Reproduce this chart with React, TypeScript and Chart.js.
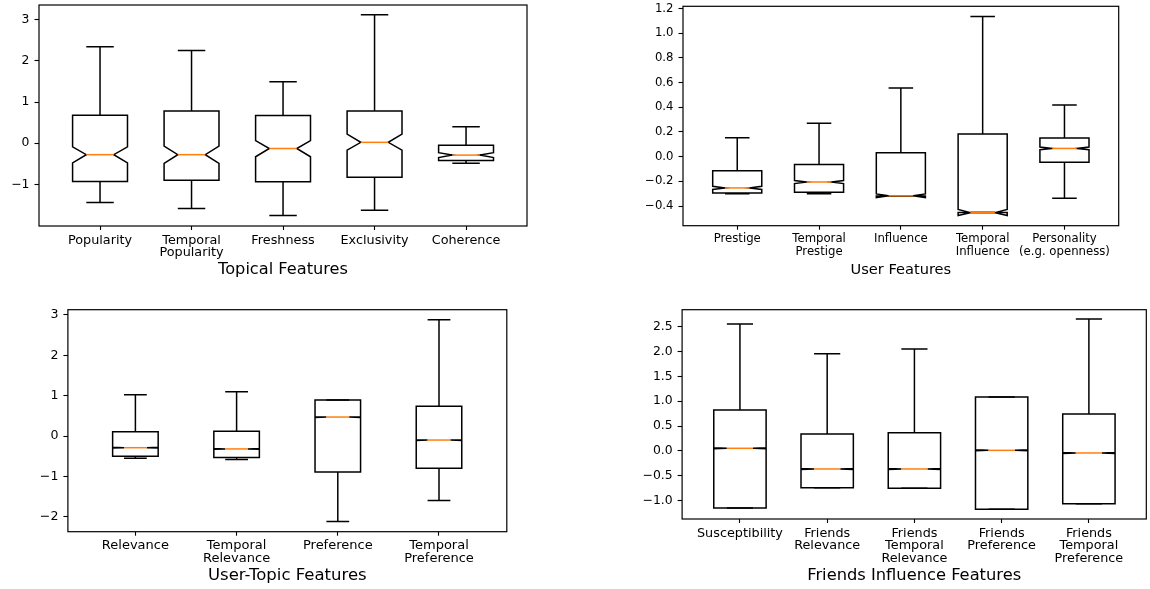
import React, { useEffect, useRef } from 'react';
import { Chart, registerables } from 'chart.js';

Chart.register(...registerables);

const FONT = "'DejaVu Sans', 'Liberation Sans', sans-serif";

// ---------- Topical Features ----------
const topicalLabels = [['Popularity'], ['Temporal', 'Popularity'], ['Freshness'], ['Exclusivity'], ['Coherence']];
const topicalWhiskerLow = [-1.44, -1.59, -1.76, -1.63, -0.49];
const topicalQ1 = [-0.93, -0.9, -0.94, -0.83, -0.42];
const topicalNotchLow = [-0.48, -0.49, -0.33, -0.17, -0.35];
const topicalMedian = [-0.28, -0.28, -0.13, 0.02, -0.29];
const topicalNotchHigh = [-0.09, -0.07, 0.06, 0.22, -0.23];
const topicalQ3 = [0.68, 0.78, 0.67, 0.78, -0.05];
const topicalWhiskerHigh = [2.34, 2.25, 1.49, 3.12, 0.4];
const topicalYTicks = [-1, 0, 1, 2, 3];

// ---------- User Features ----------
const userLabels = [['Prestige'], ['Temporal', 'Prestige'], ['Influence'], ['Temporal', 'Influence'], ['Personality', '(e.g. openness)']];
const userWhiskerLow = [-0.3, -0.3, -0.318, -0.453, -0.337];
const userQ1 = [-0.294, -0.289, -0.318, -0.453, -0.046];
const userNotchLow = [-0.265, -0.218, -0.332, -0.477, 0.056];
const userMedian = [-0.253, -0.205, -0.317, -0.453, 0.067];
const userNotchHigh = [-0.24, -0.193, -0.302, -0.427, 0.078];
const userQ3 = [-0.113, -0.064, 0.032, 0.183, 0.151];
const userWhiskerHigh = [0.154, 0.27, 0.556, 1.135, 0.418];
const userYTicks = [-0.4, -0.2, 0, 0.2, 0.4, 0.6, 0.8, 1.0, 1.2];

// ---------- User-Topic Features ----------
const utLabels = [['Relevance'], ['Temporal', 'Relevance'], ['Preference'], ['Temporal', 'Preference']];
const utWhiskerLow = [-0.55, -0.58, -2.12, -1.6];
const utQ1 = [-0.5, -0.53, -0.89, -0.8];
const utNotchLow = [-0.3, -0.33, 0.46, -0.11];
const utMedian = [-0.29, -0.32, 0.47, -0.1];
const utNotchHigh = [-0.28, -0.31, 0.48, -0.09];
const utQ3 = [0.107, 0.116, 0.89, 0.74];
const utWhiskerHigh = [1.02, 1.1, 0.89, 2.88];
const utYTicks = [-2, -1, 0, 1, 2, 3];

// ---------- Friends Influence Features ----------
const fiLabels = [['Susceptibility'], ['Friends', 'Relevance'], ['Friends', 'Temporal', 'Relevance'], ['Friends', 'Preference'], ['Friends', 'Temporal', 'Preference']];
const fiWhiskerLow = [-1.147, -0.738, -0.75, -1.174, -1.06];
const fiQ1 = [-1.147, -0.738, -0.75, -1.174, -1.06];
const fiNotchLow = [0.044, -0.372, -0.372, 0.003, -0.05];
const fiMedian = [0.054, -0.362, -0.362, 0.013, -0.04];
const fiNotchHigh = [0.064, -0.352, -0.352, 0.023, -0.03];
const fiQ3 = [0.825, 0.342, 0.369, 1.087, 0.744];
const fiWhiskerHigh = [2.555, 1.958, 2.05, 1.087, 2.656];
const fiYTicks = [-1.0, -0.5, 0, 0.5, 1.0, 1.5, 2.0, 2.5];

type Spec = {
  title: string;
  labels: string[][];
  lo: number[]; q1: number[]; nlo: number[]; med: number[]; nhi: number[]; q3: number[]; hi: number[];
  yTicks: number[]; decimals: number;
  yMin: number; yMax: number; xMin: number; xMax: number;
  boxWidth: number;
  canvas: { left: number; top: number; width: number; height: number };
  plot: { left: number; top: number; right: number; bottom: number };
  tickSize: number; yTickSize: number; titleSize: number; tickPad: number; titlePad: number; lineH: number;
};

const specs: Spec[] = [
  {
    title: 'Topical Features', labels: topicalLabels,
    lo: topicalWhiskerLow, q1: topicalQ1, nlo: topicalNotchLow, med: topicalMedian, nhi: topicalNotchHigh, q3: topicalQ3, hi: topicalWhiskerHigh,
    yTicks: topicalYTicks, decimals: 0, yMin: -2.013, yMax: 3.357, xMin: 0.333, xMax: 5.666, boxWidth: 0.6,
    canvas: { left: 0, top: 0, width: 580, height: 295 },
    plot: { left: 39, top: 5, right: 527, bottom: 226 },
    tickSize: 12.8, yTickSize: 12.4, titleSize: 16.2, tickPad: 3.8, titlePad: 15.5, lineH: 12.8,
  },
  {
    title: 'User Features', labels: userLabels,
    lo: userWhiskerLow, q1: userQ1, nlo: userNotchLow, med: userMedian, nhi: userNotchHigh, q3: userQ3, hi: userWhiskerHigh,
    yTicks: userYTicks, decimals: 1, yMin: -0.559, yMax: 1.218, xMin: 0.337, xMax: 5.663, boxWidth: 0.6,
    canvas: { left: 580, top: 0, width: 570, height: 295 },
    plot: { left: 103, top: 6.3, right: 538.7, bottom: 225.7 },
    tickSize: 11.7, yTickSize: 11.7, titleSize: 14.6, tickPad: 3.4, titlePad: 16, lineH: 12.7,
  },
  {
    title: 'User-Topic Features', labels: utLabels,
    lo: utWhiskerLow, q1: utQ1, nlo: utNotchLow, med: utMedian, nhi: utNotchHigh, q3: utQ3, hi: utWhiskerHigh,
    yTicks: utYTicks, decimals: 0, yMin: -2.372, yMax: 3.131, xMin: 0.333, xMax: 4.67, boxWidth: 0.45,
    canvas: { left: 0, top: 295, width: 580, height: 294 },
    plot: { left: 67.9, top: 14.7, right: 506.8, bottom: 236.7 },
    tickSize: 13, yTickSize: 12.6, titleSize: 16.5, tickPad: 4, titlePad: 3.5, lineH: 12.8,
  },
  {
    title: 'Friends Influence Features', labels: fiLabels,
    lo: fiWhiskerLow, q1: fiQ1, nlo: fiNotchLow, med: fiMedian, nhi: fiNotchHigh, q3: fiQ3, hi: fiWhiskerHigh,
    yTicks: fiYTicks, decimals: 1, yMin: -1.368, yMax: 2.842, xMin: 0.337, xMax: 5.658, boxWidth: 0.6,
    canvas: { left: 580, top: 295, width: 570, height: 294 },
    plot: { left: 102.1, top: 14.7, right: 566.3, bottom: 224 },
    tickSize: 12.8, yTickSize: 12.4, titleSize: 16.3, tickPad: 4.2, titlePad: 3.5, lineH: 12.6,
  },
];

function fmt(v: number, d: number) {
  const s = v.toFixed(d);
  return s.startsWith('-') ? '\u2212' + s.slice(1) : s;
}

function Panel({ spec }: { spec: Spec }) {
  const ref = useRef<HTMLCanvasElement>(null);
  useEffect(() => {
    const { canvas, plot } = spec;
    const boxPlugin = {
      id: 'boxes',
      afterDatasetsDraw(chart: any) {
        const ctx = chart.ctx as CanvasRenderingContext2D;
        const xs = chart.scales.x;
        const ys = chart.scales.y;
        const w = spec.boxWidth;
        ctx.save();
        ctx.lineWidth = 1.5;
        ctx.strokeStyle = '#000';
        ctx.lineJoin = 'miter';
        spec.med.forEach((m, i) => {
          const pos = i + 1;
          const xc = xs.getPixelForValue(pos);
          const xl = xs.getPixelForValue(pos - w / 2);
          const xr = xs.getPixelForValue(pos + w / 2);
          const cl = xs.getPixelForValue(pos - w / 4);
          const cr = xs.getPixelForValue(pos + w / 4);
          const yLo = ys.getPixelForValue(spec.lo[i]);
          const yQ1 = ys.getPixelForValue(spec.q1[i]);
          const yNlo = ys.getPixelForValue(spec.nlo[i]);
          const yMed = ys.getPixelForValue(m);
          const yNhi = ys.getPixelForValue(spec.nhi[i]);
          const yQ3 = ys.getPixelForValue(spec.q3[i]);
          const yHi = ys.getPixelForValue(spec.hi[i]);
          ctx.lineCap = 'butt';
          // whiskers
          ctx.beginPath();
          ctx.moveTo(xc, yQ1); ctx.lineTo(xc, yLo);
          ctx.moveTo(xc, yQ3); ctx.lineTo(xc, yHi);
          ctx.stroke();
          // caps
          ctx.beginPath();
          ctx.moveTo(cl, yLo); ctx.lineTo(cr, yLo);
          ctx.moveTo(cl, yHi); ctx.lineTo(cr, yHi);
          ctx.stroke();
          // notched box
          ctx.beginPath();
          ctx.moveTo(xl, yQ1);
          ctx.lineTo(xl, yNlo);
          ctx.lineTo(cl, yMed);
          ctx.lineTo(xl, yNhi);
          ctx.lineTo(xl, yQ3);
          ctx.lineTo(xr, yQ3);
          ctx.lineTo(xr, yNhi);
          ctx.lineTo(cr, yMed);
          ctx.lineTo(xr, yNlo);
          ctx.lineTo(xr, yQ1);
          ctx.closePath();
          ctx.stroke();
          // median
          ctx.strokeStyle = '#ff7f0e';
          ctx.beginPath();
          ctx.moveTo(cl, yMed); ctx.lineTo(cr, yMed);
          ctx.stroke();
          ctx.strokeStyle = '#000';
        });
        ctx.restore();
      },
      afterDraw(chart: any) {
        const { left, top, width, height } = chart.chartArea;
        const ctx = chart.ctx as CanvasRenderingContext2D;
        ctx.save();
        ctx.strokeStyle = '#000';
        ctx.lineWidth = 1.2;
        ctx.strokeRect(left, top, width, height);
        ctx.restore();
      },
    };

    const tickFont = { family: FONT, size: spec.tickSize, lineHeight: spec.lineH + 'px' };
    const positions = spec.labels.map((_, i) => i + 1);

    const chart = new Chart(ref.current!, {
      type: 'scatter',
      data: { datasets: [{ data: [], pointRadius: 0 }] },
      options: {
        animation: false,
        responsive: false,
        maintainAspectRatio: false,
        events: [],
        layout: {
          padding: { left: 0, top: plot.top, right: canvas.width - plot.right, bottom: 0 },
        },
        plugins: { legend: { display: false }, tooltip: { enabled: false }, title: { display: false } },
        scales: {
          x: {
            type: 'linear',
            min: spec.xMin,
            max: spec.xMax,
            bounds: 'data',
            border: { display: false },
            grid: { display: true, drawOnChartArea: false, drawTicks: true, tickLength: 4, tickColor: '#000', tickWidth: 1.1 },
            ticks: {
              autoSkip: false,
              maxRotation: 0,
              minRotation: 0,
              color: '#000',
              padding: spec.tickPad,
              font: tickFont,
              callback: (_v: any, idx: number) => spec.labels[idx],
            },
            afterBuildTicks: (scale: any) => {
              scale.ticks = positions.map((v) => ({ value: v }));
            },
            afterFit: (scale: any) => {
              scale.height = canvas.height - plot.bottom;
              scale.paddingLeft = 0; scale.paddingRight = 0;
            },
            title: {
              display: true,
              text: spec.title,
              color: '#000',
              font: { family: FONT, size: spec.titleSize, lineHeight: 1.2 },
              padding: { top: 0, bottom: spec.titlePad },
            },
          },
          y: {
            type: 'linear',
            min: spec.yMin,
            max: spec.yMax,
            bounds: 'data',
            border: { display: false },
            grid: { display: true, drawOnChartArea: false, drawTicks: true, tickLength: 4.5, tickColor: '#000', tickWidth: 1.1 },
            ticks: {
              color: '#000',
              padding: 5,
              font: { family: FONT, size: spec.yTickSize },
              callback: (v: any) => fmt(Number(v), spec.decimals),
            },
            afterBuildTicks: (scale: any) => {
              scale.ticks = spec.yTicks.map((v) => ({ value: v }));
            },
            afterFit: (scale: any) => {
              scale.width = plot.left;
              scale.paddingTop = 0; scale.paddingBottom = 0;
            },
          },
        },
      } as any,
      plugins: [boxPlugin],
    });
    return () => chart.destroy();
  }, [spec]);

  return (
    <canvas
      ref={ref}
      width={spec.canvas.width}
      height={spec.canvas.height}
      style={{ position: 'absolute', left: spec.canvas.left, top: spec.canvas.top, width: spec.canvas.width, height: spec.canvas.height }}
    />
  );
}

export default function App() {
  return (
    <div style={{ position: 'absolute', left: 0, top: 0, width: 1150, height: 589, background: '#fff', overflow: 'hidden' }}>
      {specs.map((s, i) => (
        <Panel key={i} spec={s} />
      ))}
    </div>
  );
}
